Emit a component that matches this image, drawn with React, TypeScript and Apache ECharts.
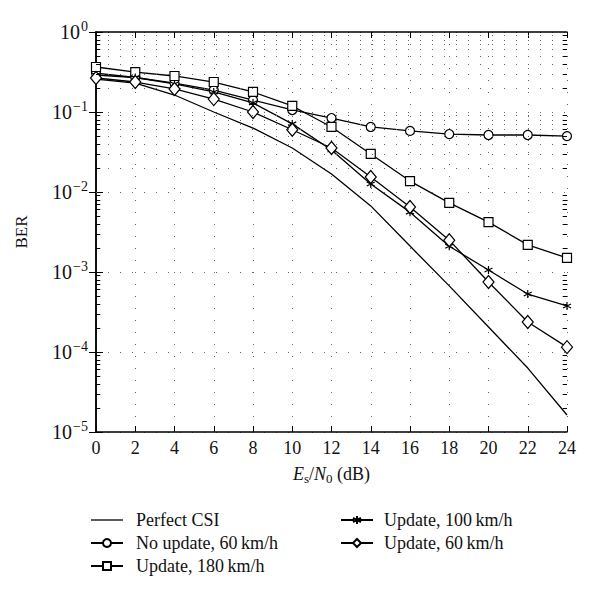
import React, { useEffect, useRef } from "react";
import * as echarts from "echarts";

const snr = [0, 2, 4, 6, 8, 10, 12, 14, 16, 18, 20, 22, 24];
const perfectCSI = [0.258, 0.23, 0.163, 0.1, 0.063, 0.0355, 0.0168, 0.0067, 0.00211, 0.00067, 0.000205, 0.000063, 0.0000163];
const noUpdate60 = [0.307, 0.27, 0.23, 0.188, 0.141, 0.106, 0.084, 0.065, 0.058, 0.053, 0.0516, 0.0516, 0.05];
const update180 = [0.365, 0.316, 0.282, 0.237, 0.178, 0.119, 0.065, 0.0299, 0.0137, 0.0073, 0.0042, 0.00218, 0.0015];
const update100 = [0.29, 0.27, 0.224, 0.178, 0.13, 0.071, 0.0335, 0.0126, 0.0056, 0.0021, 0.00106, 0.00053, 0.000376];
const update60 = [0.266, 0.237, 0.194, 0.145, 0.1, 0.06, 0.0355, 0.0154, 0.0065, 0.0025, 0.00075, 0.000237, 0.000115];

const seriesNames = [
  "Perfect CSI",
  "No update, 60\u2009km/h",
  "Update, 180\u2009km/h",
  "Update, 100\u2009km/h",
  "Update, 60\u2009km/h",
];
const decades = [1e-5, 1e-4, 1e-3, 1e-2, 1e-1];
const minorMultipliers = [2, 3, 4, 5, 6, 7, 8, 9];

const FONT = "'Liberation Serif', serif";
const starPath = "path://M0,-5L0,5M-4.33,-2.5L4.33,2.5M-4.33,2.5L4.33,-2.5";
const plainLineIcon = "path://M0,0L32,0L32,1.3L0,1.3Z";

export default function App() {
  const ref = useRef<HTMLDivElement>(null);
  useEffect(() => {
    if (!ref.current) return;
    const chart = echarts.init(ref.current, null, { renderer: "svg" });
    const minorVals: number[] = [];
    decades.forEach((d) => minorMultipliers.forEach((m) => minorVals.push(d * m)));
    const dotStyle = { color: "#666", width: 1, type: [1, 11] as any };

    const mkLine = (name: string, data: number[], symbol: string, size: any, show = true) => ({
      name,
      type: "line",
      data: snr.map((x, i) => [x, data[i]]),
      symbol,
      symbolSize: size,
      showSymbol: show,
      lineStyle: { color: "#000", width: 1.3 },
      itemStyle: { color: "#fff", borderColor: "#000", borderWidth: 1.2 },
      z: 3,
    });

    const yLabel = (v: number) => {
      const e = Math.round(Math.log10(v));
      return "10{sup|" + (e === 0 ? "0" : "\u2212" + Math.abs(e)) + "}";
    };

    const legendText = { fontFamily: FONT, fontSize: 18, color: "#111" };

    const option: any = {
      animation: false,
      backgroundColor: "#fff",
      textStyle: { fontFamily: FONT },
      grid: { left: 96, right: 33, top: 32, bottom: 170 },
      xAxis: [
        {
          type: "value",
          min: 0,
          max: 24,
          interval: 2,
          name: "{i|E}{sub|s}/{i|N}{sub|0} (dB)",
          nameLocation: "middle",
          nameGap: 31,
          nameTextStyle: {
            fontFamily: FONT,
            fontSize: 18,
            color: "#111",
            rich: {
              i: { fontFamily: FONT, fontSize: 18, fontStyle: "italic", color: "#111" },
              sub: { fontFamily: FONT, fontSize: 13, color: "#111", padding: [9, 0, 0, 0] },
            },
          },
          axisLine: { show: true, lineStyle: { color: "#000", width: 1.5 } },
          axisTick: { show: true, inside: true, length: 6, lineStyle: { color: "#000" } },
          axisLabel: { fontFamily: FONT, fontSize: 18, color: "#111", margin: 7 },
          splitLine: { show: true, lineStyle: dotStyle },
        },
        {
          type: "value",
          position: "top",
          min: 0,
          max: 24,
          interval: 2,
          axisLine: { show: true, lineStyle: { color: "#000", width: 1.5 } },
          axisTick: { show: true, inside: true, length: 6, lineStyle: { color: "#000" } },
          axisLabel: { show: false },
          splitLine: { show: false },
        },
      ],
      yAxis: [
        {
          type: "log",
          logBase: 10,
          min: 1e-5,
          max: 1,
          name: "BER",
          nameLocation: "middle",
          nameGap: 66,
          nameTextStyle: { fontFamily: FONT, fontSize: 17, color: "#111" },
          axisLine: { show: true, lineStyle: { color: "#000", width: 1.5 } },
          axisTick: { show: true, inside: true, length: 7, lineStyle: { color: "#000" } },
          axisLabel: {
            fontFamily: FONT,
            fontSize: 20,
            color: "#111",
            margin: 8,
            formatter: yLabel,
            rich: { sup: { fontFamily: FONT, fontSize: 14, color: "#111", padding: [0, 0, 12, 1] } },
          },
          splitLine: { show: true, lineStyle: dotStyle },
          minorTick: { show: false },
        },
        {
          type: "log",
          logBase: 10,
          min: 1e-5,
          max: 1,
          position: "right",
          axisLine: { show: true, lineStyle: { color: "#000", width: 1.5 } },
          axisTick: { show: true, inside: true, length: 7, lineStyle: { color: "#000" } },
          axisLabel: { show: false },
          splitLine: { show: false },
        },
      ],
      legend: [
        {
          orient: "vertical",
          left: 90,
          top: 511,
          padding: 0,
          itemWidth: 32,
          itemHeight: 10,
          itemGap: 5,
          data: [
            { name: seriesNames[0], icon: plainLineIcon, itemStyle: { color: "#000", borderWidth: 0 } },
            seriesNames[1],
            seriesNames[2],
          ],
          textStyle: { ...legendText, padding: [0, 0, 0, 8] },
        },
        {
          orient: "vertical",
          left: 340,
          top: 511,
          padding: 0,
          itemWidth: 32,
          itemHeight: 10,
          itemGap: 5,
          data: seriesNames.slice(3),
          textStyle: { ...legendText, padding: [0, 0, 0, 6] },
        },
      ],
      series: [
        mkLine(seriesNames[0], perfectCSI, "none", 0, false),
        mkLine(seriesNames[1], noUpdate60, "circle", 9),
        mkLine(seriesNames[2], update180, "rect", 9),
        mkLine(seriesNames[3], update100, starPath, 8),
        mkLine(seriesNames[4], update60, "diamond", [11, 13]),
        {
          name: "minor-grid",
          type: "line",
          data: [],
          silent: true,
          markLine: {
            silent: true,
            symbol: "none",
            label: { show: false },
            animation: false,
            data: [
              ...minorVals.map((v) => ({ yAxis: v, lineStyle: dotStyle })),
              ...minorVals.map((v) => [
                { coord: [0, v], lineStyle: { color: "#000", width: 1, type: "solid" } },
                { coord: [0.22, v] },
              ]),
              ...minorVals.map((v) => [
                { coord: [23.78, v], lineStyle: { color: "#000", width: 1, type: "solid" } },
                { coord: [24, v] },
              ]),
            ],
          },
        },
      ],
    };
    chart.setOption(option);
    return () => chart.dispose();
  }, []);
  return <div ref={ref} style={{ width: 600, height: 602, position: "absolute", left: 0, top: 0 }} />;
}
